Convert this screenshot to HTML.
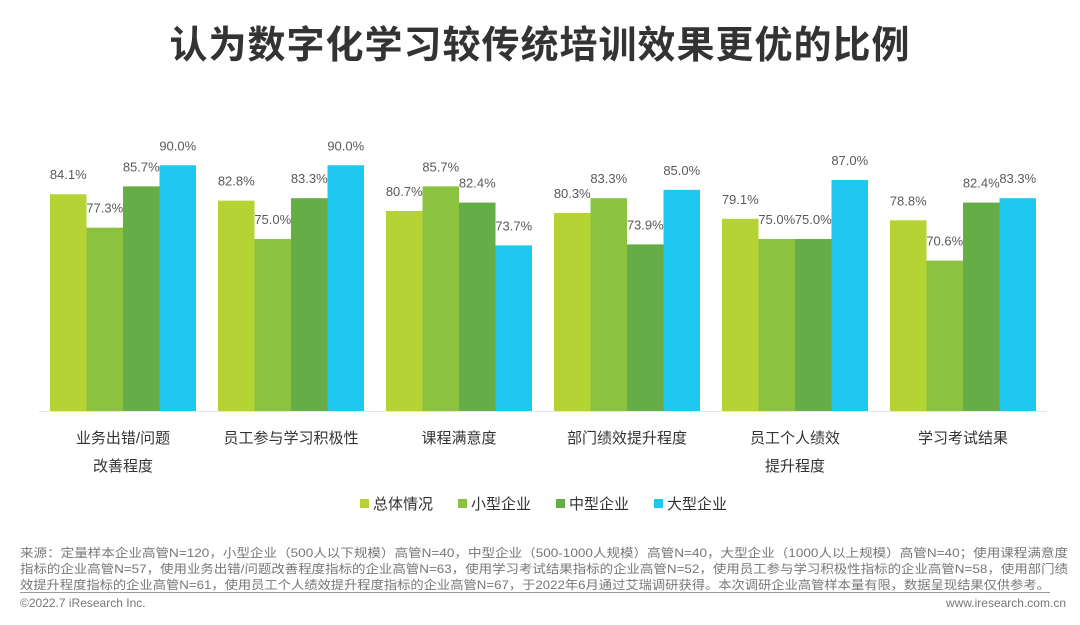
<!DOCTYPE html>
<html><head><meta charset="utf-8"><style>
body{margin:0;width:1080px;height:625px;background:#fff;overflow:hidden;font-family:"Liberation Sans","Noto Sans CJK SC",sans-serif;position:relative}
.t{position:absolute;white-space:nowrap}
.fn{position:absolute;left:20px;font-size:12px;color:#777;white-space:nowrap;transform-origin:0 0}
</style></head><body>
<div class="t" style="left:0;width:1080px;text-align:center;top:14px;font-size:38px;font-weight:bold;color:#333;letter-spacing:1px">认为数字化学习较传统培训效果更优的比例</div>
<svg id="c" width="1080" height="530" style="position:absolute;left:0;top:0"></svg>
<div class="fn" data-w="1048" style="top:544px">来源：定量样本企业高管N=120，小型企业（500人以下规模）高管N=40，中型企业（500-1000人规模）高管N=40，大型企业（1000人以上规模）高管N=40；使用课程满意度</div>
<div class="fn" data-w="1048" style="top:560px">指标的企业高管N=57，使用业务出错/问题改善程度指标的企业高管N=63，使用学习考试结果指标的企业高管N=52，使用员工参与学习积极性指标的企业高管N=58，使用部门绩</div>
<div class="fn" data-w="1030" style="top:576px">效提升程度指标的企业高管N=61，使用员工个人绩效提升程度指标的企业高管N=67，于2022年6月通过艾瑞调研获得。本次调研企业高管样本量有限，数据呈现结果仅供参考。</div>
<div style="position:absolute;left:20px;top:592px;width:1030px;height:1px;background:#999"></div>
<div class="t" style="left:20px;top:596px;font-size:12px;color:#777">©2022.7 iResearch Inc.</div>
<div class="t" style="right:14px;top:596px;font-size:12px;color:#777">www.iresearch.com.cn</div>
<script>
const categories=[["业务出错/问题","改善程度"],["员工参与学习积极性"],["课程满意度"],["部门绩效提升程度"],["员工个人绩效","提升程度"],["学习考试结果"]];
const seriesNames=["总体情况","小型企业","中型企业","大型企业"];
const colors=["#b5d334","#8bc240","#65ad46","#1ec8f0"];
const s0=[84.1,82.8,80.7,80.3,79.1,78.8];
const s1=[77.3,75.0,85.7,83.3,75.0,70.6];
const s2=[85.7,83.3,82.4,73.9,75.0,82.4];
const s3=[90.0,90.0,73.7,85.0,87.0,83.3];
const series=[s0,s1,s2,s3];
document.querySelectorAll('.fn').forEach(d=>{const w=d.getBoundingClientRect().width;d.style.transform='scaleX('+(+d.dataset.w/w)+')';});
const svg=document.getElementById('c');const NS="http://www.w3.org/2000/svg";
const base=411,minV=40,ppu=4.915,x0=39,cw=168,bw=36.5,gpad=11;
const y=v=>base-(v-minV)*ppu;
function mk(t,a){const e=document.createElementNS(NS,t);for(const k in a)e.setAttribute(k,a[k]);svg.appendChild(e);return e;}
const ax=mk('line',{x1:x0,x2:x0+cw*6,y1:base+0.5,y2:base+0.5,stroke:'#e6e6e6','stroke-width':1});


categories.forEach((c,i)=>{
 series.forEach((s,j)=>{
  const bx=x0+i*cw+gpad+j*bw;
  const r=mk('rect',{x:bx,y:y(s[i]),width:bw,height:base-y(s[i]),fill:colors[j]});
  
  
  const t=mk('text',{x:bx+bw/2,y:y(s[i])-15,'text-anchor':'middle','font-size':13,fill:'#595959'});
  t.textContent=s[i].toFixed(1)+'%';
  
  
 });
 c.forEach((ln,k)=>{
  const t=mk('text',{x:x0+i*cw+cw/2,y:443+k*28,'text-anchor':'middle','font-size':15,fill:'#333'});
  t.textContent=ln;
  
  
 });
});
const lx=[360,458,556,654];
seriesNames.forEach((n,j)=>{
 const r=mk('rect',{x:lx[j],y:499,width:9,height:9,fill:colors[j]});
 
 
 const t=mk('text',{x:lx[j]+13,y:509,'font-size':15,fill:'#333'});
 t.textContent=n;
 
 
});
</script>
</body></html>
